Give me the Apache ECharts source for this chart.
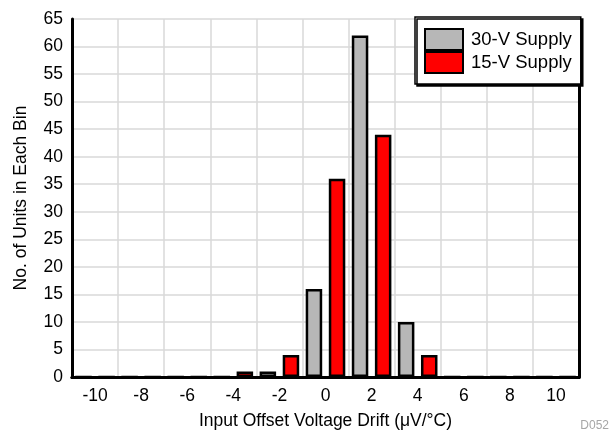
<!DOCTYPE html>
<html>
<head>
<meta charset="utf-8">
<script src="https://cdn.jsdelivr.net/npm/echarts@6/dist/echarts.min.js"></script>
<style>
html,body{margin:0;padding:0;background:#fff;}
#chart{width:613px;height:435px;}
</style>
</head>
<body>
<div id="chart"></div>
<script>
var categories = ['-10','-8','-6','-4','-2','0','2','4','6','8','10'];
var supply30 = [0,0,0,0,1,16,62,10,0,0,0];
var supply15 = [0,0,0,1,4,36,44,4,0,0,0];
var seriesNames = ['30-V Supply','15-V Supply'];
var xTitle = 'Input Offset Voltage Drift (\u03BCV/\u00B0C)';
var yTitle = 'No. of Units in Each Bin';

var FONT = '"Liberation Sans", Arial, Helvetica, sans-serif';
var frameLine = {show:true, lineStyle:{color:'#000', width:3}};
var chart = echarts.init(document.getElementById('chart'), null, {renderer:'canvas'});
chart.setOption({
  animation:false,
  backgroundColor:'#fff',
  textStyle:{fontFamily:FONT},
  grid:{left:72, right:34, top:19, bottom:56, show:true, borderColor:'#000', borderWidth:0, backgroundColor:'#fff'},
  legend:{
    show:true, orient:'vertical', left:415, top:17,
    padding:[11,9,10,9], itemGap:0, itemWidth:38, itemHeight:21,
    backgroundColor:'#fff', borderColor:'#000', borderWidth:1.5,
    shadowColor:'#000', shadowOffsetX:2, shadowOffsetY:2, shadowBlur:0,
    icon:'rect',
    textStyle:{fontSize:18.5, color:'#000', fontFamily:FONT, padding:[0,0,0,3]},
    data:seriesNames
  },
  xAxis:[{
    type:'category', data:categories,
    axisLine:frameLine,
    axisTick:{show:false},
    axisLabel:{fontSize:17.5, color:'#000', margin:10, fontFamily:FONT},
    splitLine:{show:true, lineStyle:{color:'#d9d9d9', width:1.5}},
    name:xTitle, nameLocation:'middle', nameGap:35,
    nameTextStyle:{fontSize:17.5, color:'#000', fontFamily:FONT}
  },{
    type:'category', data:categories, position:'top',
    axisLine:frameLine, axisTick:{show:false}, axisLabel:{show:false}, splitLine:{show:false}
  }],
  yAxis:[{
    type:'value', min:0, max:65, interval:5,
    axisLine:frameLine,
    axisTick:{show:false},
    axisLabel:{fontSize:17.5, color:'#000', margin:9, fontFamily:FONT},
    splitLine:{show:true, lineStyle:{color:'#d9d9d9', width:1.5}},
    name:yTitle, nameLocation:'middle', nameGap:42, nameRotate:90,
    nameTextStyle:{fontSize:17.5, color:'#000', fontFamily:FONT}
  },{
    type:'value', min:0, max:65, interval:5, position:'right',
    axisLine:frameLine, axisTick:{show:false}, axisLabel:{show:false}, splitLine:{show:false}
  }],
  series:[
    {name:seriesNames[0], type:'bar', data:supply30, barWidth:16.5, barGap:'40%',
     itemStyle:{color:'#b7b7b7', borderColor:'#000', borderWidth:2.5}},
    {name:seriesNames[1], type:'bar', data:supply15, barWidth:16.5, barGap:'40%',
     itemStyle:{color:'#ff0000', borderColor:'#000', borderWidth:2.5}}
  ],
  graphic:[
    {type:'text', right:4, bottom:3, style:{text:'D052', fontSize:12, fill:'#a6a6a6', fontFamily:FONT}}
  ]
});
</script>
</body>
</html>
